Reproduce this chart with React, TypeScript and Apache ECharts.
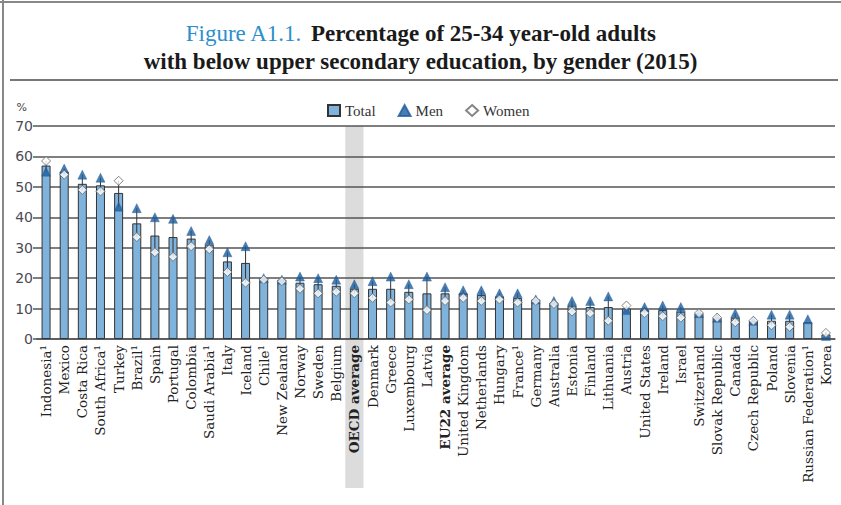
import React, { useEffect, useRef } from 'react';
import * as echarts from 'echarts';

const categories = [
  'Indonesia¹', 'Mexico', 'Costa Rica', 'South Africa¹', 'Turkey', 'Brazil¹', 'Spain', 'Portugal',
  'Colombia', 'Saudi Arabia¹', 'Italy', 'Iceland', 'Chile¹', 'New Zealand', 'Norway', 'Sweden',
  'Belgium', 'OECD average', 'Denmark', 'Greece', 'Luxembourg', 'Latvia', 'EU22 average',
  'United Kingdom', 'Netherlands', 'Hungary', 'France¹', 'Germany', 'Australia', 'Estonia',
  'Finland', 'Lithuania', 'Austria', 'United States', 'Ireland', 'Israel', 'Switzerland',
  'Slovak Republic', 'Canada', 'Czech Republic', 'Poland', 'Slovenia', 'Russian Federation¹', 'Korea',
];

const totalValues = [
  57, 55, 51, 50.5, 48, 38, 34, 33.5,
  33, 31, 25.5, 25, 20, 19.5, 18.5, 18,
  17.5, 16.5, 16.5, 16.5, 15.5, 15, 15,
  15, 14.5, 14, 13.5, 13, 12, 11,
  10.5, 10.5, 10, 9.5, 9.5, 9, 8.5,
  7, 7, 6, 6, 6, 5.5, 1.5,
];

const menValues = [
  55, 56, 54, 53, 43.5, 43, 40, 39.5,
  35.5, 32.5, 28.5, 30.5, 20, 19.5, 20.5, 20,
  19.5, 18, 19, 20.5, 18, 20.5, 17,
  16, 16, 15, 15, 13, 12.5, 12.5,
  12.5, 14, 9.5, 10.5, 11, 10.5, 8.5,
  7, 8.5, 6, 8, 8, 6.5, 1,
];

const womenValues: (number | null)[] = [
  58.5, 54, 49, 48.5, 52, 33.5, 28.5, 27,
  30.5, 29.5, 22, 18.5, 19.5, 19, 16.5, 15,
  15.5, 15, 13.5, 12, 13, 9.5, 12.5,
  13.5, 12.5, 13, 12, 12.5, 11.5, 9,
  8.5, 6, 11, 8.5, 7.5, 7, 8.5,
  7, 5.5, 6, 4.5, 4, null, 2,
];

const yMin = 0;
const yMax = 70;
const yStep = 10;

const averageNames = ['OECD average', 'EU22 average'];
const highlighted = 'OECD average';

export default function App() {
  const ref = useRef<HTMLDivElement>(null);

  useEffect(() => {
    if (!ref.current) return;
    document.body.style.margin = '0';
    const chart = echarts.init(ref.current, null, { renderer: 'svg' });

    const rangeData = categories.map((_, i) => [i, menValues[i], womenValues[i] == null ? menValues[i] : womenValues[i]]);

    chart.setOption({
      animation: false,
      backgroundColor: '#ffffff',
      title: {
        left: 'center',
        top: 14,
        text: '{blue|Figure A1.1.}  {bold|Percentage of 25-34 year-old adults}\n{bold|with below upper secondary education, by gender (2015)}',
        textStyle: {
          fontFamily: 'Liberation Serif',
          lineHeight: 28,
          rich: {
            blue: { color: '#2a8fcb', fontSize: 23, fontWeight: 'normal', fontFamily: 'Liberation Serif', lineHeight: 28 },
            bold: { color: '#1a1a1a', fontSize: 23, fontWeight: 'bold', fontFamily: 'Liberation Serif', lineHeight: 28 },
          },
        },
      },
      legend: {
        top: 98,
        left: 322,
        itemWidth: 12,
        itemHeight: 11,
        itemGap: 22,
        data: [
          { name: 'Total', icon: 'rect' },
          { name: 'Men', icon: 'triangle' },
          { name: 'Women', icon: 'diamond' },
        ],
        textStyle: { fontFamily: 'Liberation Serif', fontSize: 15, color: '#333' },
      },
      grid: { left: 37, right: 6, top: 126, bottom: 166, containLabel: false },
      xAxis: {
        type: 'category',
        data: categories,
        axisLine: { lineStyle: { color: '#555', width: 1.5 } },
        axisTick: { show: false },
        axisLabel: {
          interval: 0,
          rotate: 90,
          margin: 6,
          fontFamily: 'DejaVu Serif',
          fontSize: 13.5,
          color: '#222',
          formatter: (v: string) => (averageNames.includes(v) ? `{b|${v}}` : v),
          rich: {
            b: { fontFamily: 'DejaVu Serif', fontSize: 13.5, fontWeight: 'bold', color: '#222' },
          },
        },
      },
      yAxis: {
        type: 'value',
        min: yMin,
        max: yMax,
        interval: yStep,
        name: '%',
        nameLocation: 'end',
        nameGap: 13,
        nameTextStyle: { fontFamily: 'DejaVu Sans', fontSize: 11, color: '#444', align: 'right', padding: [0, 10, 0, 0] },
        axisLine: { show: false },
        axisTick: { show: true, length: 4, lineStyle: { color: '#555', width: 1.5 } },
        axisLabel: { fontFamily: 'DejaVu Sans', fontSize: 14, color: '#4a4a55', margin: 4 },
        splitLine: { lineStyle: { color: '#555', width: 1.5 } },
      },
      series: [
        {
          name: 'Total',
          type: 'bar',
          data: totalValues,
          barWidth: 9,
          itemStyle: { color: '#7fb3dc', borderColor: '#333', borderWidth: 1 },
          z: 2,
        },
        {
          name: 'range',
          type: 'custom',
          data: rangeData,
          z: 3,
          renderItem: (params: any, api: any) => {
            const i = api.value(0);
            const a = api.coord([i, api.value(1)]);
            const b = api.coord([i, api.value(2)]);
            return {
              type: 'line',
              shape: { x1: a[0], y1: a[1], x2: b[0], y2: b[1] },
              style: { stroke: '#333', lineWidth: 1 },
            };
          },
        },
        {
          name: 'Men',
          type: 'scatter',
          data: menValues,
          symbol: 'triangle',
          symbolSize: 9,
          itemStyle: { color: '#1d5c9c', borderColor: '#1d5c9c', borderWidth: 0.5 },
          z: 4,
        },
        {
          name: 'Women',
          type: 'scatter',
          data: womenValues,
          symbol: 'diamond',
          symbolSize: 9,
          itemStyle: { color: '#ffffff', borderColor: '#666', borderWidth: 1 },
          z: 5,
        },
      ],
    });

    const idx = categories.indexOf(highlighted);
    const cx = chart.convertToPixel({ xAxisIndex: 0 }, idx) as number;
    const cx2 = chart.convertToPixel({ xAxisIndex: 0 }, idx + 1) as number;
    const band = cx2 - cx;
    const yTop = chart.convertToPixel({ yAxisIndex: 0 }, yMax) as number;
    const W = chart.getWidth();
    const H = chart.getHeight();

    chart.setOption({
      graphic: [
        {
          type: 'rect',
          z: -10,
          silent: true,
          shape: { x: cx - band / 2, y: yTop, width: band, height: 488 - yTop },
          style: { fill: '#dcdcdc' },
        },
        {
          type: 'line',
          z: 10,
          shape: { x1: 0, y1: 2, x2: W, y2: 2 },
          style: { stroke: '#888', lineWidth: 2 },
        },
        {
          type: 'line',
          z: 10,
          shape: { x1: 3, y1: 0, x2: 3, y2: H },
          style: { stroke: '#888', lineWidth: 2 },
        },
        {
          type: 'line',
          z: 10,
          shape: { x1: 10, y1: 80, x2: W - 3, y2: 80 },
          style: { stroke: '#777', lineWidth: 2 },
        },
      ],
    });

    return () => chart.dispose();
  }, []);

  return <div ref={ref} style={{ width: 841, height: 505 }} />;
}
